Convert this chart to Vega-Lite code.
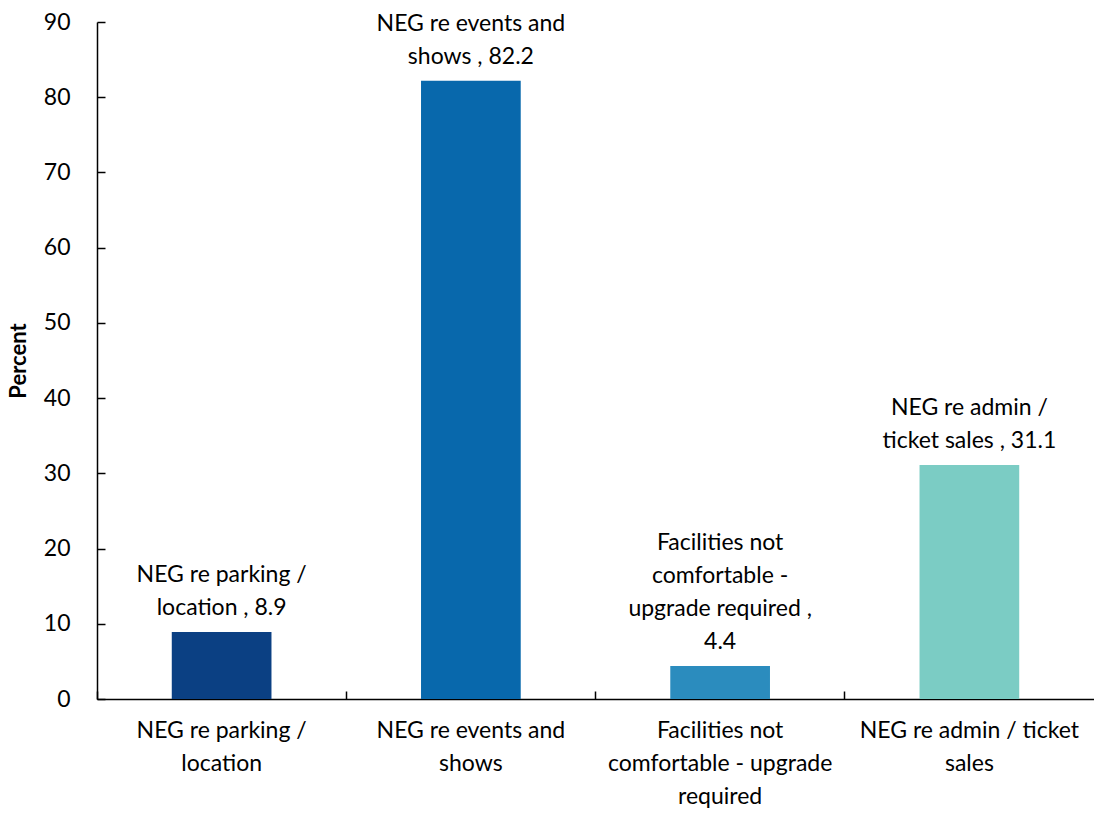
{
  "$schema": "https://vega.github.io/schema/vega-lite/v6.json",
  "width": 997,
  "height": 677,
  "autosize": {"type": "none"},
  "padding": {"left": 97, "top": 22, "right": 0, "bottom": 115},
  "background": "white",
  "config": {
    "view": {"stroke": null},
    "font": "Lato",
    "axis": {"grid": false, "domainColor": "#000000", "tickColor": "#000000", "labelColor": "#000000", "titleColor": "#000000", "labelFont": "Lato", "titleFont": "Lato"}
  },
  "data": {
    "values": [
      {"category": "NEG re parking / location", "percent": 8.9, "b0": "location , 8.9", "b1": "NEG re parking /"},
      {"category": "NEG re events and shows", "percent": 82.2, "b0": "shows , 82.2", "b1": "NEG re events and"},
      {"category": "Facilities not comfortable - upgrade required", "percent": 4.4, "b0": "4.4", "b1": "upgrade required ,", "b2": "comfortable -", "b3": "Facilities not"},
      {"category": "NEG re admin / ticket sales", "percent": 31.1, "b0": "ticket sales , 31.1", "b1": "NEG re admin /"}
    ]
  },
  "encoding": {
    "x": {
      "field": "category",
      "type": "nominal",
      "sort": null,
      "scale": {"paddingInner": 0, "paddingOuter": 0}
    },
    "y": {
      "field": "percent",
      "type": "quantitative",
      "scale": {"domain": [0, 90], "nice": false}
    }
  },
  "layer": [
    {
      "mark": {"type": "bar", "width": {"band": 0.4}},
      "encoding": {
        "x": {
          "field": "category",
          "type": "nominal",
          "sort": null,
          "axis": {
            "title": null,
            "orient": "bottom",
            "labelAngle": 0,
            "labelFontSize": 23,
            "labelPadding": 20,
            "labelLineHeight": 33,
            "labelBaseline": "top",
            "labelLimit": 0,
            "ticks": false,
            "domainWidth": 1.5,
            "labelExpr": "datum.value == 'NEG re parking / location' ? ['NEG re parking /', 'location'] : datum.value == 'NEG re events and shows' ? ['NEG re events and', 'shows'] : datum.value == 'Facilities not comfortable - upgrade required' ? ['Facilities not', 'comfortable - upgrade', 'required'] : ['NEG re admin / ticket', 'sales']"
          }
        },
        "y": {
          "field": "percent",
          "type": "quantitative",
          "axis": {
            "title": "Percent",
            "titleFontSize": 22,
            "titleFontWeight": "bold",
            "titlePadding": 13,
            "labelFontSize": 23,
            "values": [0, 10, 20, 30, 40, 50, 60, 70, 80, 90],
            "tickSize": -8,
            "tickWidth": 1.5,
            "domainWidth": 1.5,
            "labelPadding": 35
          }
        },
        "color": {
          "field": "category",
          "type": "nominal",
          "sort": null,
          "legend": null,
          "scale": {
            "domain": ["NEG re parking / location", "NEG re events and shows", "Facilities not comfortable - upgrade required", "NEG re admin / ticket sales"],
            "range": ["#0b4083", "#0868ac", "#2b8cbe", "#7bccc4"]
          }
        }
      }
    },
    {
      "mark": {"type": "text", "baseline": "alphabetic", "align": "center", "dy": -17, "fontSize": 23, "color": "#000000"},
      "encoding": {
        "x": {
          "field": "category",
          "type": "nominal",
          "sort": null,
          "axis": {
            "title": null,
            "orient": "bottom",
            "labels": false,
            "domain": false,
            "ticks": true,
            "bandPosition": 0,
            "tickSize": -8,
            "tickWidth": 1.5
          }
        },
        "text": {"field": "b0"}
      }
    },
    {
      "transform": [{"filter": "isValid(datum.b1)"}],
      "mark": {"type": "text", "baseline": "alphabetic", "align": "center", "dy": -50, "fontSize": 23, "color": "#000000"},
      "encoding": {
        "x": {"field": "category", "type": "nominal", "sort": null, "axis": null},
        "text": {"field": "b1"}
      }
    },
    {
      "transform": [{"filter": "isValid(datum.b2)"}],
      "mark": {"type": "text", "baseline": "alphabetic", "align": "center", "dy": -83, "fontSize": 23, "color": "#000000"},
      "encoding": {
        "x": {"field": "category", "type": "nominal", "sort": null, "axis": null},
        "text": {"field": "b2"}
      }
    },
    {
      "transform": [{"filter": "isValid(datum.b3)"}],
      "mark": {"type": "text", "baseline": "alphabetic", "align": "center", "dy": -116, "fontSize": 23, "color": "#000000"},
      "encoding": {
        "x": {"field": "category", "type": "nominal", "sort": null, "axis": null},
        "text": {"field": "b3"}
      }
    }
  ],
  "resolve": {"axis": {"x": "independent"}}
}
